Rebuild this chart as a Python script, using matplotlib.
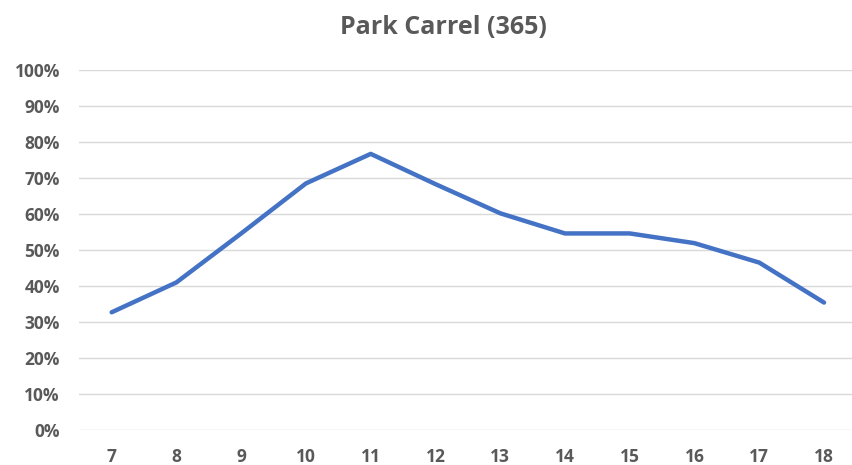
import matplotlib
matplotlib.use("Agg")
import matplotlib.pyplot as plt
from matplotlib.ticker import FuncFormatter, MultipleLocator

hours = ["7", "8", "9", "10", "11", "12", "13", "14", "15", "16", "17", "18"]
occupancy = [0.327, 0.41, 0.546, 0.685, 0.767, 0.683, 0.602, 0.546, 0.546, 0.519, 0.465, 0.354]
title = "Park Carrel (365)"

plt.rcParams['font.family'] = ['Open Sans', 'DejaVu Sans']

fig = plt.figure(figsize=(8.52, 4.65), dpi=100)
ax = fig.add_axes([79.3/852, 1 - 430/465, (856.4 - 79.3)/852, 360/465])

x = list(range(len(hours)))
ax.plot(x, occupancy, color="#4472C4", linewidth=3.2, solid_capstyle="round", solid_joinstyle="round", zorder=3)

ax.set_xlim(-0.5, len(hours) - 0.5)
ax.set_ylim(0, 1.0)
ax.yaxis.set_major_locator(MultipleLocator(0.1))
ax.yaxis.set_major_formatter(FuncFormatter(lambda v, p: f"{v*100:.0f}%"))
ax.set_xticks(x)
ax.set_xticklabels(hours)

ax.grid(axis="y", color="#d9d9d9", linewidth=1.0, zorder=0)
for s in ax.spines.values():
    s.set_visible(False)
ax.tick_params(axis="both", length=0, colors="#595959", labelsize=12.5)
ax.tick_params(axis="y", pad=14)
ax.tick_params(axis="x", pad=13)
for lab in ax.get_xticklabels() + ax.get_yticklabels():
    lab.set_fontweight("bold")

fig.text(443/852, 1 - 34/465, title, ha="center", va="baseline", fontsize=18, fontweight="bold", color="#595959")

fig.savefig("out.png", dpi=100)
